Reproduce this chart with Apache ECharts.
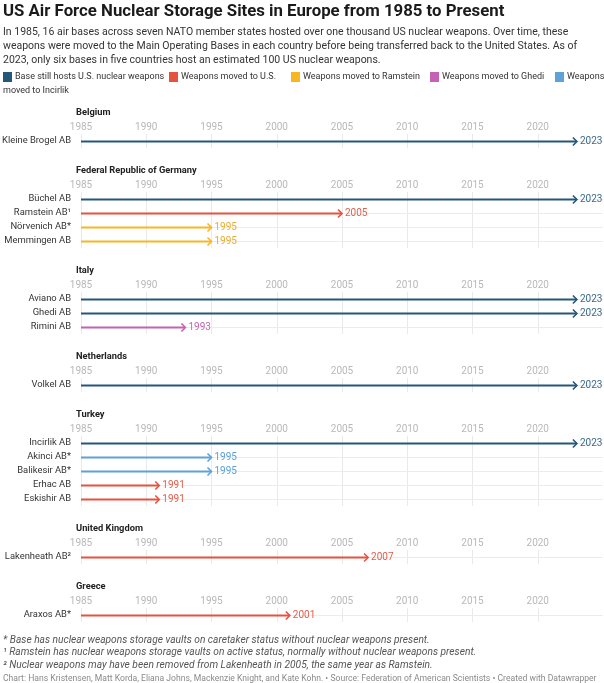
<!DOCTYPE html>
<html>
<head>
<meta charset="utf-8">
<script src="https://cdn.jsdelivr.net/npm/echarts@6/dist/echarts.min.js"></script>
<style>
html,body{margin:0;padding:0;background:#fff;}
#chart{width:604px;height:683px;}
</style>
</head>
<body>
<div id="chart"></div>
<script>
// ---- data ----
const sectionNames = ['Belgium', 'Federal Republic of Germany', 'Italy', 'Netherlands', 'Turkey', 'United Kingdom', 'Greece'];
const baseNames = ['Kleine Brogel AB', 'Büchel AB', 'Ramstein AB¹', 'Nörvenich AB*', 'Memmingen AB',
  'Aviano AB', 'Ghedi AB', 'Rimini AB', 'Volkel AB', 'Incirlik AB', 'Akinci AB*', 'Balikesir AB*',
  'Erhac AB', 'Eskishir AB', 'Lakenheath AB²', 'Araxos AB*'];
const baseSection = [0, 1, 1, 1, 1, 2, 2, 2, 3, 4, 4, 4, 4, 4, 5, 6];
const startYears = [1985, 1985, 1985, 1985, 1985, 1985, 1985, 1985, 1985, 1985, 1985, 1985, 1985, 1985, 1985, 1985];
const endYears = [2023, 2023, 2005, 1995, 1995, 2023, 2023, 1993, 2023, 2023, 1995, 1995, 1991, 1991, 2007, 2001];
const baseStatus = [0, 0, 1, 2, 2, 0, 0, 3, 0, 0, 4, 4, 1, 1, 1, 1];
const statusNames = ['Base still hosts U.S. nuclear weapons', 'Weapons moved to U.S.', 'Weapons moved to Ramstein', 'Weapons moved to Ghedi', 'Weapons moved to Incirlik'];
const axisMin = 1985, axisMax = 2025, axisStep = 5;

const titleText = 'US Air Force Nuclear Storage Sites in Europe from 1985 to Present';
const subtitleLines = [
  'In 1985, 16 air bases across seven NATO member states hosted over one thousand US nuclear weapons. Over time, these',
  'weapons were moved to the Main Operating Bases in each country before being transferred back to the United States. As of',
  '2023, only six bases in five countries host an estimated 100 US nuclear weapons.'
];
const footnotes = [
  '* Base has nuclear weapons storage vaults on caretaker status without nuclear weapons present.',
  '¹ Ramstein has nuclear weapons storage vaults on active status, normally without nuclear weapons present.',
  '² Nuclear weapons may have been removed from Lakenheath in 2005, the same year as Ramstein.'
];
const sourceText = 'Chart: Hans Kristensen, Matt Korda, Eliana Johns, Mackenzie Knight, and Kate Kohn. • Source: Federation of American Scientists • Created with Datawrapper';

// ---- styles ----
const FONT = 'Roboto, "Noto Sans", sans-serif';
const statusColors = ['#24587a', '#e5533f', '#f8b720', '#c462b5', '#5ea2d8'];
const labelColors = ['#3b6b8c', '#e0604d', '#e6ad2e', '#c464b4', '#5a9fd6'];
const ROW = 14;
const GAP = 58;

const chart = echarts.init(document.getElementById('chart'));

const grids = [], xAxes = [], yAxes = [], series = [], graphics = [];
let firstRowY = 141;
sectionNames.forEach((name, si) => {
  const idx = baseNames.map((b, i) => i).filter(i => baseSection[i] === si);
  const top = firstRowY - ROW / 2;
  grids.push({ left: 81, top: top, width: 522, height: idx.length * ROW, containLabel: false, outerBoundsMode: 'none' });
  const tickCount = (axisMax - axisMin) / axisStep + 1;
  const splitColors = [];
  for (let k = 0; k < tickCount; k++) splitColors.push(k === tickCount - 1 ? 'rgba(0,0,0,0)' : '#e9e9e9');
  xAxes.push({
    type: 'value', gridIndex: si, position: 'top', min: axisMin, max: axisMax, interval: axisStep,
    axisLine: { show: false }, axisTick: { show: false },
    axisLabel: { color: '#b8b8b8', fontSize: 10, fontFamily: FONT, margin: 2, showMaxLabel: false,
      formatter: v => (v >= axisMax ? '' : String(v)) },
    splitLine: { show: true, lineStyle: { color: splitColors, width: 1 } }
  });
  yAxes.push({
    type: 'category', gridIndex: si, inverse: true, data: idx.map(i => baseNames[i]),
    axisLine: { show: false }, axisTick: { show: false },
    axisLabel: { interval: 0, color: '#333', fontSize: 9.4, fontFamily: FONT, margin: 10 },
    splitLine: { show: false }
  });
  series.push({
    type: 'custom', xAxisIndex: si, yAxisIndex: si,
    encode: { x: [1, 2], y: 0 },
    data: idx.map((i, r) => [r, startYears[i], endYears[i], baseStatus[i]]),
    renderItem: function (params, api) {
      const row = api.value(0);
      const p0 = api.coord([api.value(1), row]);
      const p1 = api.coord([api.value(2), row]);
      const st = api.value(3);
      const cs = params.coordSys;
      const y = Math.round(p0[1]) + 0.5;
      const col = statusColors[st];
      return {
        type: 'group',
        children: [
          { type: 'line', shape: { x1: p0[0], y1: y, x2: cs.x + cs.width, y2: y }, style: { stroke: '#ececec', lineWidth: 1 } },
          { type: 'line', shape: { x1: p0[0], y1: y, x2: p1[0] - 0.5, y2: y }, style: { stroke: col, lineWidth: 2 } },
          { type: 'polyline', shape: { points: [[p1[0] - 4, y - 4], [p1[0], y], [p1[0] - 4, y + 4]] },
            style: { stroke: col, lineWidth: 1.6, fill: null } },
          { type: 'text', x: p1[0] + 3, y: y, style: { text: String(api.value(2)), fill: labelColors[st],
            fontSize: 10, fontFamily: FONT, verticalAlign: 'middle', align: 'left' } }
        ]
      };
    }
  });
  graphics.push({ type: 'text', left: 76, top: firstRowY - 33,
    style: { text: name, fontSize: 9.3, fontWeight: 'bold', fill: '#222', fontFamily: FONT } });
  firstRowY += (idx.length - 1) * ROW + GAP;
});

// title, subtitle
graphics.push({ type: 'text', left: 3, top: 3, style: { text: titleText, fontSize: 16.8, fontWeight: 'bold', fill: '#1a1a1a', fontFamily: FONT } });
subtitleLines.forEach((t, i) => {
  graphics.push({ type: 'text', left: 3, top: 27 + i * 14, style: { text: t, fontSize: 10.5, fill: '#333', fontFamily: FONT } });
});
// legend
const legendX = [3, 169, 291, 430, 555];
statusNames.forEach((t, i) => {
  graphics.push({ type: 'rect', shape: { x: legendX[i], y: 72, width: 9, height: 10 }, style: { fill: statusColors[i] } });
  const txt = i === 4 ? 'Weapons' : t;
  graphics.push({ type: 'text', left: legendX[i] + 12, top: 72, style: { text: txt, fontSize: 9, fill: '#333', fontFamily: FONT } });
});
graphics.push({ type: 'text', left: 3, top: 86, style: { text: 'moved to Incirlik', fontSize: 9, fill: '#333', fontFamily: FONT } });
// footnotes
footnotes.forEach((t, i) => {
  graphics.push({ type: 'text', left: 3, top: 635 + i * 12.5, style: { text: t, fontSize: 10.2, fontStyle: 'italic', fill: '#555', fontFamily: FONT } });
});
graphics.push({ type: 'text', left: 3, top: 674, style: { text: sourceText, fontSize: 8.6, fill: '#8a8a8a', fontFamily: FONT } });

chart.setOption({
  animation: false,
  backgroundColor: '#fff',
  grid: grids, xAxis: xAxes, yAxis: yAxes, series: series, graphic: graphics
});
</script>
</body>
</html>
